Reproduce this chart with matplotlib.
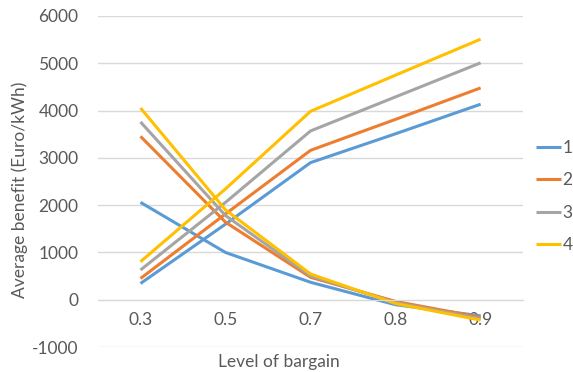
import numpy as np
import matplotlib.pyplot as plt

plt.rcParams['font.family'] = ['Lato', 'DejaVu Sans']
plt.rcParams['axes.unicode_minus'] = False

levels = ['0.3', '0.5', '0.7', '0.8', '0.9']
series_names = ['1', '2', '3', '4']
colors = ['#5B9BD5', '#ED7D31', '#A5A5A5', '#FFC000']

# rising curves, one per series
rising = [
    [345, 1600, 2900, 3510, 4135],
    [450, 1815, 3160, 3815, 4480],
    [630, 2060, 3570, 4290, 5010],
    [805, 2345, 3985, 4750, 5510],
]
# falling curves, one per series
falling = [
    [2060, 1000, 370, -105, -340],
    [3455, 1640, 475, -35, -370],
    [3760, 1780, 505, -60, -400],
    [4055, 1900, 545, -80, -430],
]

fig = plt.figure(figsize=(5.73, 3.72), dpi=100)
ax = fig.add_axes([0.171, 0.067, 0.742, 0.890])

x = np.arange(len(levels))
for name, c, up, down in zip(series_names, colors, rising, falling):
    ax.plot(x, up, color=c, lw=2.2, label=name, solid_capstyle='butt')
    ax.plot(x, down, color=c, lw=2.2, solid_capstyle='butt')

ax.set_xlim(-0.5, len(levels) - 0.5)
ax.set_ylim(-1000, 6000)
ax.set_yticks(np.arange(-1000, 6001, 1000))
ax.set_xticks(x)
ax.set_xticklabels(levels)

ax.grid(axis='y', color='#D9D9D9', lw=1)
ax.set_axisbelow(True)
for s in ['top', 'right', 'left']:
    ax.spines[s].set_visible(False)
ax.spines['bottom'].set_position(('data', 0))
ax.spines['bottom'].set_color('#D9D9D9')
ax.tick_params(axis='both', length=0, labelsize=12.5, labelcolor='#595959')
ax.tick_params(axis='x', pad=9)
ax.tick_params(axis='y', pad=14)

fig.text(0.035, 0.49, 'Average benefit (Euro/kWh)', rotation=90, ha='center',
         va='center', fontsize=12.5, color='#595959')
fig.text(0.487, 0.026, 'Level of bargain', ha='center', va='center',
         fontsize=12.5, color='#595959')

ax.legend(loc='center left', bbox_to_anchor=(1.005, 0.455), frameon=False,
          handlelength=1.45, handletextpad=0.1, labelspacing=0.95,
          fontsize=12.5, labelcolor='#595959', borderaxespad=0.2)

fig.savefig('out.png', dpi=100)
